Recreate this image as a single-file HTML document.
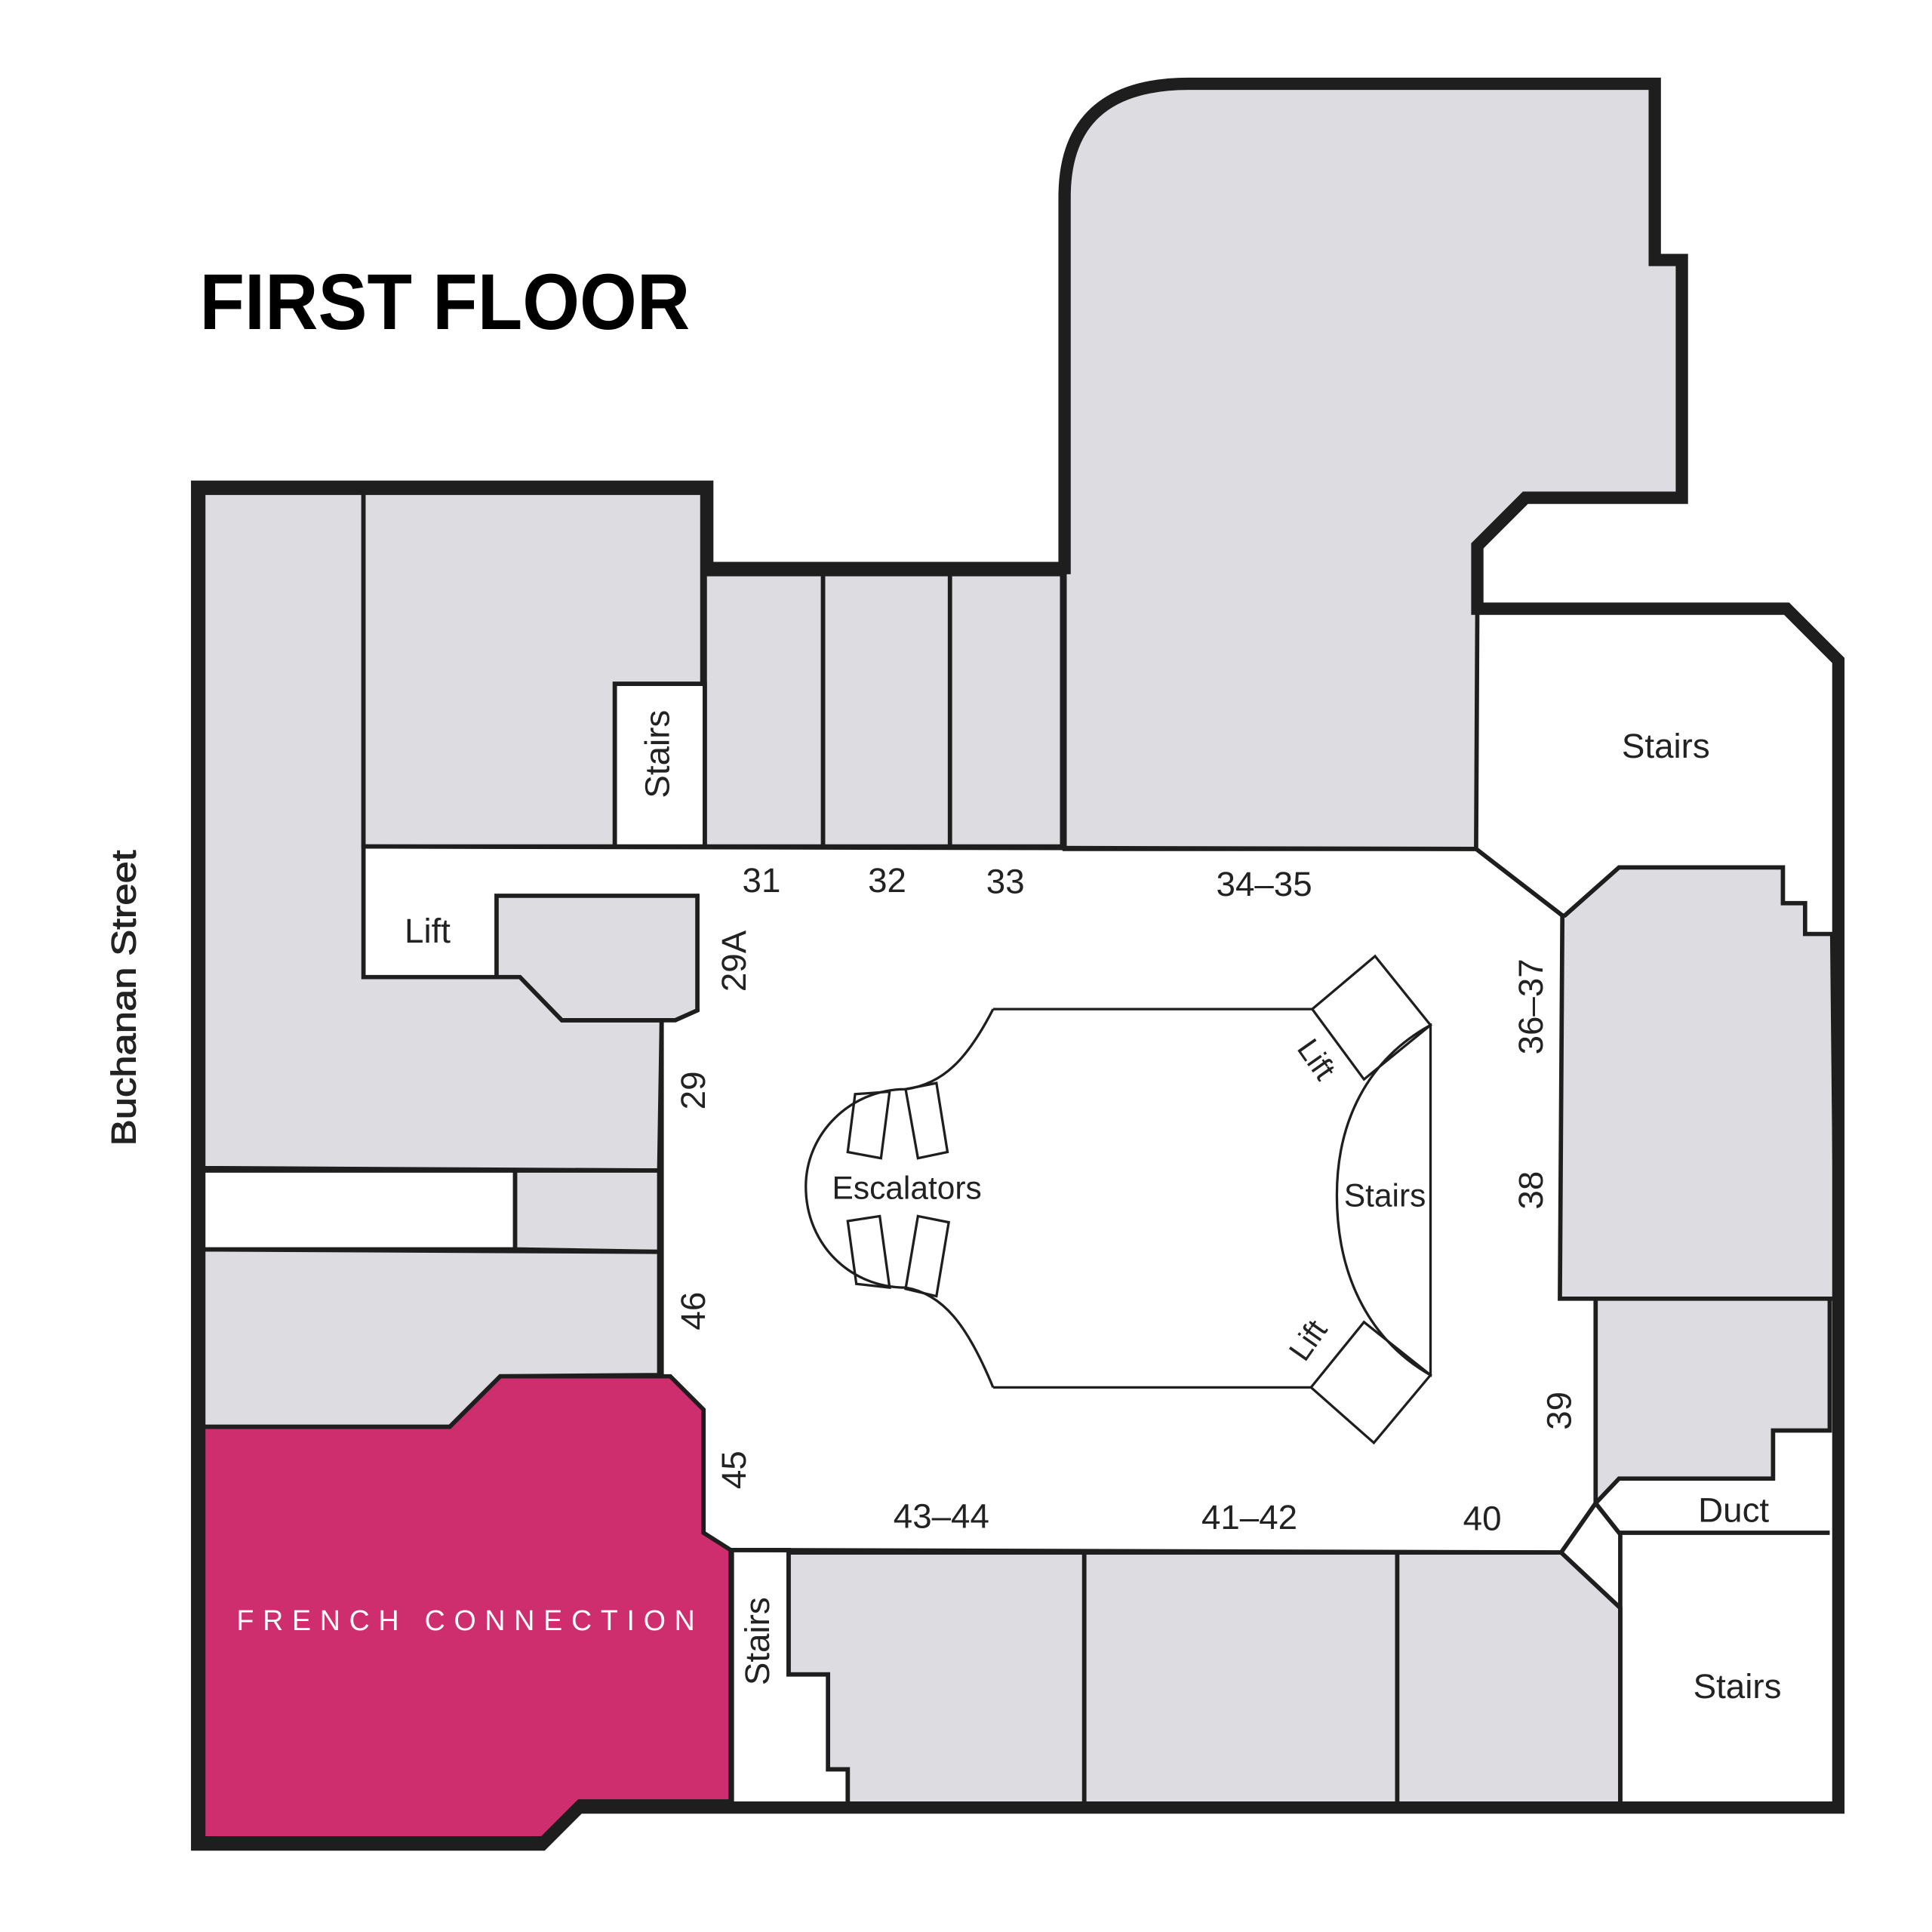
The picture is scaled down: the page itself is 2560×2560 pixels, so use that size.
<!DOCTYPE html>
<html><head><meta charset="utf-8"><style>html,body{margin:0;padding:0;background:#fff}svg{display:block}</style></head>
<body>
<svg width="2560" height="2560" viewBox="0 0 1568 1568" xmlns="http://www.w3.org/2000/svg" font-family="Liberation Sans, sans-serif">
<rect width="1568" height="1568" fill="#fff"/>
<path d="M160,395 L574,395 L574,461 L864,461 L864,160 Q864,68 965,68 L1343,68 L1343,211 L1365,211 L1365,404 L1238,404 L1199,443 L1199,494 L1450,494 L1492,536 L1492,1467 L470,1467 L440,1497 L160,1497 Z" fill="#fff"/>
<g fill="#dddde1" stroke="#1e1e1e" stroke-width="3.5" stroke-linejoin="miter">
<polygon points="165,400 295,400 295,793 422,793 456,828 537,828 535,950 165,948"/>
<polygon points="295,400 570,400 570,555 499,555 499,687 295,687"/>
<polygon points="403,727 566,727 566,820 548,828 456,828 422,793 403,793"/>
<polygon points="572,466 668,466 668,687 572,687"/>
<polygon points="668,466 771,466 771,687 668,687"/>
<polygon points="771,466 862,466 862,687 771,687"/>
<path d="M864,689 L864,160 Q864,68 965,68 L1343,68 L1343,211 L1365,211 L1365,404 L1238,404 L1199,443 L1199,494 L1198,689 Z"/>
<polygon points="1270,743 1314,704 1447,704 1447,733 1465,733 1465,758 1487,758 1490,1054 1266,1054 1268,743"/>
<polygon points="1295,1054 1485,1054 1485,1161 1439,1161 1439,1200 1314,1200 1295,1220"/>
<polygon points="418,950 535,950 535,1016 418,1014"/>
<polygon points="165,1014 535,1016 535,1116 406,1117 365,1158 165,1158"/>
<polygon points="640,1260 880,1260 880,1465 688,1465 688,1436 672,1436 672,1359 640,1359"/>
<polygon points="880,1260 1134,1260 1134,1465 880,1465"/>
<polygon points="1134,1260 1267,1260 1315,1305 1315,1465 1134,1465"/>
</g>
<g fill="#fff" stroke="#1e1e1e" stroke-width="3.5">
<polygon points="499,555 572,555 572,687 499,687"/>
<polygon points="165,950 418,950 418,1014 165,1014"/>
<polygon points="594,1258 640,1258 640,1359 672,1359 672,1436 688,1436 688,1465 594,1465"/>
</g>
<g fill="none" stroke="#1e1e1e" stroke-width="3.5">
<polyline points="295,687 1198,689 1268,743"/>
<polyline points="537,828 537,1116"/>
<polyline points="593,1258 1267,1260 1295,1220 1314,1244 1485,1244"/>
<line x1="1315" y1="1244" x2="1315" y2="1465"/>
</g>
<polygon points="165,1158 365,1158 406,1117 544,1117 571,1144 571,1244 593,1258 593,1462 470,1462 440,1492 165,1492" fill="#cf2e6e" stroke="#1e1e1e" stroke-width="3.5"/>
<path d="M160,395 L574,395 L574,461 L864,461 L864,160 Q864,68 965,68 L1343,68 L1343,211 L1365,211 L1365,404 L1238,404 L1199,443 L1199,494 L1450,494 L1492,536 L1492,1467 L470,1467 L440,1497 L160,1497 Z" fill="none" stroke="#1e1e1e" stroke-width="10"/>
<g fill="none" stroke="#1e1e1e" stroke-width="2">
<path d="M806,819 L1065,819 M806,1126 L1064,1126"/>
<path d="M806,819 C785,860 765,880 735,884 C690,884 654,920 654,963 C654,1010 690,1045 735,1045 C765,1050 785,1075 806,1126"/>
<polygon points="1065,819 1116,776 1161,832 1107,876"/>
<polygon points="1064,1126 1107,1073 1161,1116 1115,1171"/>
<path d="M1161,832 C1110,860 1085,910 1085,970 C1085,1040 1115,1090 1161,1116 Z"/>
<polygon points="694,888 722,886 715,940 688,935"/>
<polygon points="735,884 760,879 769,935 745,940"/>
<polygon points="688,991 714,987 722,1045 695,1042"/>
<polygon points="745,987 770,992 760,1052 735,1046"/>
</g>
<text x="162" y="267" font-size="64" font-weight="bold" textLength="398" lengthAdjust="spacingAndGlyphs" fill="#000">FIRST FLOOR</text>
<text transform="translate(110,810) rotate(-90)" text-anchor="middle" dy="0" font-size="28" fill="#222" stroke="#222" stroke-width="0.6" textLength="240" lengthAdjust="spacingAndGlyphs">Buchanan Street</text>
<g font-size="28" fill="#222" text-anchor="middle">
<text x="347" y="765">Lift</text>
<text x="618" y="724">31</text>
<text x="720" y="724">32</text>
<text x="816" y="725">33</text>
<text x="1026" y="727">34–35</text>
<text x="1352" y="615">Stairs</text>
<text x="1410" y="1378">Stairs</text>
<text x="1407" y="1235">Duct</text>
<text x="764" y="1240">43–44</text>
<text x="1014" y="1241">41–42</text>
<text x="1203" y="1242">40</text>
<text x="736" y="973" font-size="26">Escalators</text>
<text x="1124" y="979" font-size="26">Stairs</text>
<text transform="translate(533,612) rotate(-90)" dy="10">Stairs</text>
<text transform="translate(614,1332) rotate(-90)" dy="10">Stairs</text>
<text transform="translate(595,780) rotate(-90)" dy="10">29A</text>
<text transform="translate(562,885) rotate(-90)" dy="10">29</text>
<text transform="translate(562,1064) rotate(-90)" dy="10">46</text>
<text transform="translate(595,1193) rotate(-90)" dy="10">45</text>
<text transform="translate(1242,817) rotate(-90)" dy="10">36–37</text>
<text transform="translate(1242,966) rotate(-90)" dy="10">38</text>
<text transform="translate(1265,1145) rotate(-90)" dy="10">39</text>
<text transform="translate(1068,860) rotate(55)" dy="8" font-size="25">Lift</text>
<text transform="translate(1062,1088) rotate(-55)" dy="8" font-size="25">Lift</text>
</g>
<text x="378" y="1323" font-size="23" fill="#fff" text-anchor="middle" textLength="372" lengthAdjust="spacing">FRENCH CONNECTION</text>
</svg>
</body></html>
